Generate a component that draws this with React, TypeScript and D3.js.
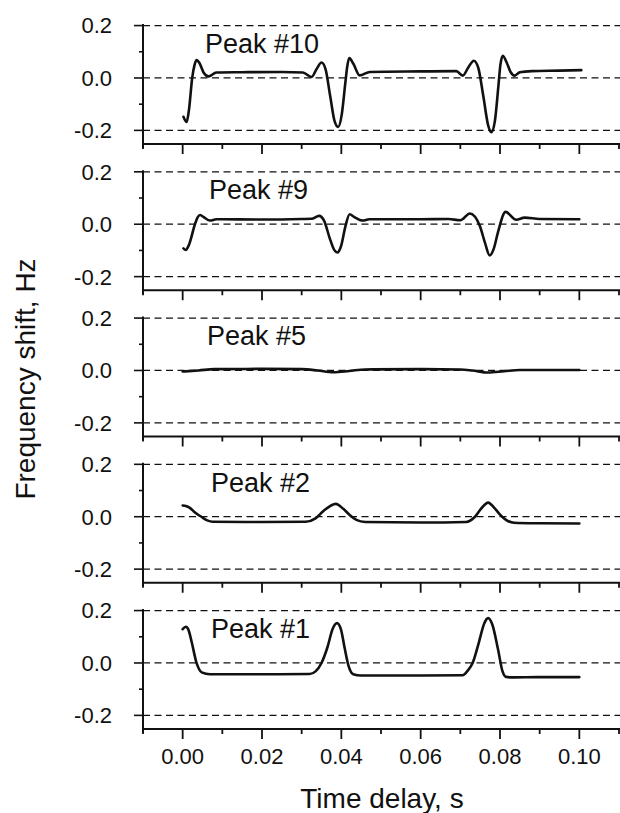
import * as d3 from 'd3';

// time delay (s), frequency shift (Hz)
const peak10: [number, number][] = [
  [0.0002, -0.148], [0.001, -0.168], [0.0016, -0.12], [0.0024, 0.0], [0.003, 0.05],
  [0.0035, 0.068], [0.0042, 0.058], [0.0053, 0.02], [0.0065, 0.006], [0.0085, 0.021],
  [0.015, 0.022], [0.025, 0.023], [0.0303, 0.021], [0.0325, 0.004], [0.0338, 0.035],
  [0.035, 0.059], [0.036, 0.035], [0.0372, -0.07], [0.0383, -0.165], [0.0392, -0.187],
  [0.0401, -0.14], [0.041, -0.02], [0.0415, 0.045], [0.042, 0.076], [0.043, 0.055],
  [0.0446, 0.01], [0.0472, 0.023], [0.06, 0.025], [0.069, 0.026], [0.0706, 0.009],
  [0.072, 0.04], [0.0734, 0.066], [0.0745, 0.04], [0.0758, -0.07], [0.077, -0.18],
  [0.0778, -0.207], [0.0787, -0.165], [0.0796, -0.03], [0.0801, 0.05], [0.0807, 0.085],
  [0.0816, 0.062], [0.0827, 0.022], [0.0837, 0.009], [0.085, 0.022], [0.088, 0.026],
  [0.095, 0.028], [0.1005, 0.03],
];

const peak9: [number, number][] = [
  [0.0002, -0.092], [0.0008, -0.098], [0.0016, -0.078], [0.0031, 0.0], [0.0038, 0.027],
  [0.0044, 0.035], [0.0053, 0.027], [0.0069, 0.014], [0.0085, 0.019], [0.02, 0.018],
  [0.03, 0.02], [0.0325, 0.021], [0.0344, 0.032], [0.0357, 0.012], [0.037, -0.05],
  [0.0382, -0.098], [0.039, -0.108], [0.0399, -0.085], [0.041, -0.01], [0.0421, 0.038],
  [0.0432, 0.028], [0.0454, 0.014], [0.047, 0.019], [0.06, 0.019], [0.067, 0.02],
  [0.07, 0.015], [0.0724, 0.041], [0.0749, -0.006], [0.0762, -0.07], [0.0774, -0.119],
  [0.0785, -0.09], [0.0795, -0.03], [0.0814, 0.047], [0.0841, 0.017], [0.0862, 0.025],
  [0.09, 0.02], [0.1, 0.019],
];

const peak5: [number, number][] = [
  [0.0, -0.004], [0.004, 0.0], [0.008, 0.005], [0.02, 0.006], [0.03, 0.005],
  [0.034, 0.0], [0.038, -0.007], [0.042, -0.002], [0.046, 0.004], [0.06, 0.005],
  [0.07, 0.004], [0.073, 0.0], [0.077, -0.008], [0.081, -0.003], [0.085, 0.002],
  [0.1, 0.002],
];

const peak2: [number, number][] = [
  [0.0, 0.043], [0.0008, 0.041], [0.0018, 0.034], [0.0032, 0.015], [0.0048, -0.001],
  [0.0062, -0.014], [0.0076, -0.019], [0.02, -0.02], [0.031, -0.019], [0.0335, -0.006],
  [0.0355, 0.022], [0.0386, 0.049], [0.0405, 0.03], [0.0421, 0.007], [0.0438, -0.012],
  [0.046, -0.02], [0.06, -0.022], [0.0715, -0.02], [0.0735, -0.003], [0.0752, 0.03],
  [0.077, 0.054], [0.0785, 0.035], [0.08, 0.008], [0.0815, -0.012], [0.0835, -0.023],
  [0.09, -0.025], [0.1, -0.026],
];

const peak1: [number, number][] = [
  [0.0, 0.129], [0.0008, 0.138], [0.0015, 0.125], [0.0023, 0.078], [0.0035, 0.0],
  [0.0048, -0.036], [0.0069, -0.043], [0.02, -0.043], [0.032, -0.042], [0.0335, -0.032],
  [0.035, 0.0], [0.0365, 0.06], [0.0378, 0.13], [0.0389, 0.152], [0.0399, 0.128],
  [0.0408, 0.06], [0.0418, -0.01], [0.043, -0.043], [0.045, -0.048], [0.06, -0.048],
  [0.0706, -0.047], [0.0718, -0.03], [0.0731, 0.0], [0.0747, 0.08], [0.076, 0.15],
  [0.077, 0.171], [0.0781, 0.145], [0.0795, 0.052], [0.0806, -0.03], [0.0815, -0.053],
  [0.083, -0.055], [0.09, -0.054], [0.1, -0.054],
];

const panelNames = ['Peak #10', 'Peak #9', 'Peak #5', 'Peak #2', 'Peak #1'];
const panelSeries = [peak10, peak9, peak5, peak2, peak1];
const panelLabelX = [205, 209, 207, 211, 211];

const xMajor = [0, 0.02, 0.04, 0.06, 0.08, 0.1];
const xLabels = ['0.00', '0.02', '0.04', '0.06', '0.08', '0.10'];
const xMinor = [-0.01, 0.01, 0.03, 0.05, 0.07, 0.09, 0.11];
const yMajor = [0.2, 0, -0.2];
const yLabels = ['0.2', '0.0', '-0.2'];
const yMinor = [0.1, -0.1];

const W = 620;
const H = 813;
const font = '"Liberation Sans", Arial, sans-serif';
const ink = '#111';

export default function App() {
  const x = d3.scaleLinear().domain([-0.01, 0.11]).range([143, 619]);
  const axisLeft = x(-0.01);
  const panelTop = 24;
  const panelStep = 146.25;
  const panelH = 120;

  return (
    <div style={{ position: 'absolute', left: 0, top: 0 }}>
      <svg width={W} height={H} style={{ display: 'block', background: '#fff' }}>
        {panelSeries.map((data, i) => {
          const top = panelTop + i * panelStep;
          const y = d3.scaleLinear().domain([-0.252, 0.206]).range([top + panelH, top]);
          const line = d3
            .line<[number, number]>()
            .x((d) => x(d[0]))
            .y((d) => y(d[1]))
            .curve(d3.curveMonotoneX);
          const bottom = y(-0.252);
          return (
            <g key={i}>
              {yMajor.map((v) => (
                <line key={'g' + v} x1={axisLeft} x2={W} y1={y(v)} y2={y(v)}
                  stroke={ink} strokeWidth={1.3} strokeDasharray="7,4.5" />
              ))}
              {yMajor.map((v) => (
                <line key={'t' + v} x1={axisLeft - 9} x2={axisLeft} y1={y(v)} y2={y(v)}
                  stroke={ink} strokeWidth={1.6} />
              ))}
              {yMinor.map((v) => (
                <line key={'m' + v} x1={axisLeft - 4} x2={axisLeft} y1={y(v)} y2={y(v)}
                  stroke={ink} strokeWidth={1.6} />
              ))}
              {yMajor.map((v, k) => (
                <text key={'l' + v} x={112} y={y(v)} dy="0.36em" textAnchor="end"
                  fontFamily={font} fontSize={22} fill={ink}>{yLabels[k]}</text>
              ))}
              <line x1={axisLeft} x2={axisLeft} y1={y(0.206)} y2={bottom + 4}
                stroke={ink} strokeWidth={2} />
              <line x1={axisLeft} x2={W} y1={bottom} y2={bottom} stroke={ink} strokeWidth={2} />
              {xMajor.map((v) => (
                <line key={'xt' + v} x1={x(v)} x2={x(v)} y1={bottom} y2={bottom + 10}
                  stroke={ink} strokeWidth={1.8} />
              ))}
              {xMinor.map((v) => (
                <line key={'xm' + v} x1={x(v)} x2={x(v)} y1={bottom} y2={bottom + 5}
                  stroke={ink} strokeWidth={1.8} />
              ))}
              {i === panelSeries.length - 1 &&
                xMajor.map((v, k) => (
                  <text key={'xl' + v} x={x(v)} y={764} textAnchor="middle"
                    fontFamily={font} fontSize={22} fill={ink}>{xLabels[k]}</text>
                ))}
              <text x={panelLabelX[i]} y={y(0) - 25} fontFamily={font} fontSize={27} fill={ink}>
                {panelNames[i]}
              </text>
              <path d={line(data) ?? ''} fill="none" stroke={ink} strokeWidth={2.6}
                strokeLinejoin="round" strokeLinecap="round" />
            </g>
          );
        })}
        <text x={382} y={808} textAnchor="middle" fontFamily={font} fontSize={28} fill={ink}>
          Time delay, s
        </text>
        <text transform="translate(35,379) rotate(-90)" textAnchor="middle"
          fontFamily={font} fontSize={28} fill={ink}>
          Frequency shift, Hz
        </text>
      </svg>
    </div>
  );
}
